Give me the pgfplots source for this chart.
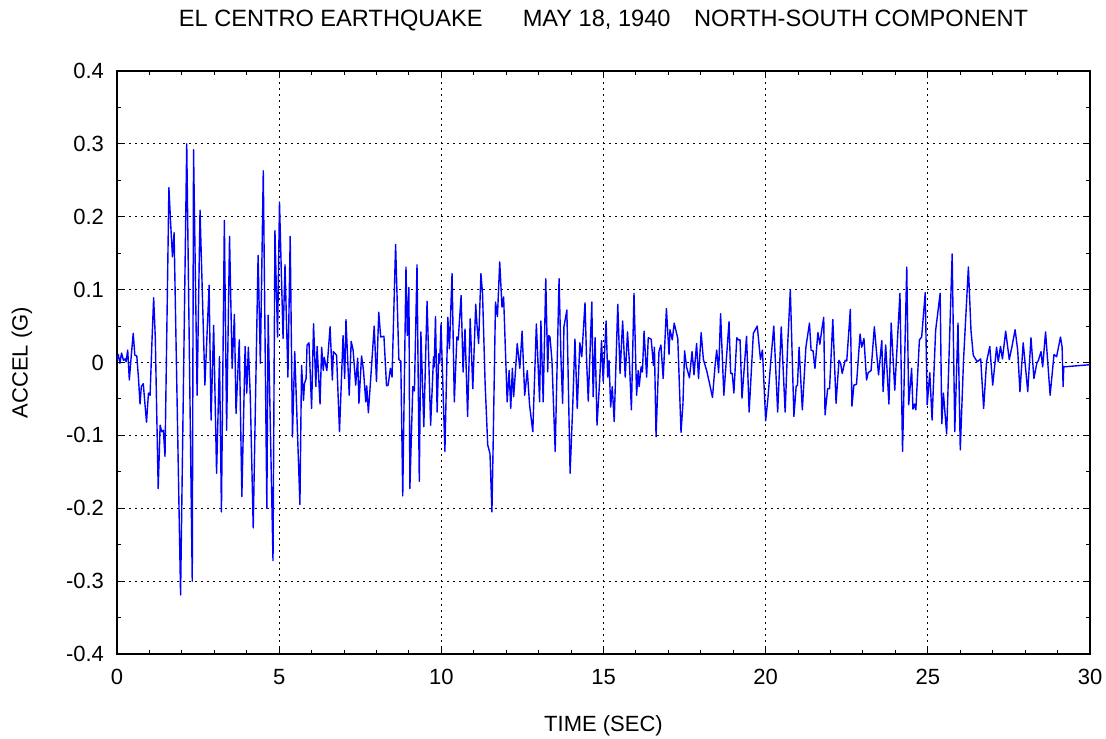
\documentclass[border=0pt]{standalone}
\usepackage{pgfplots}
\pgfplotsset{compat=1.18}
\usepackage{fontspec}
\setmainfont{Liberation Sans}
\pgfplotstableread{
t a
0.00 0.003
0.04 0.011
0.09 -0.001
0.14 0.013
0.20 0.003
0.25 0.005
0.28 0.001
0.33 0.017
0.38 -0.024
0.43 0.004
0.50 0.040
0.55 0.010
0.61 0.009
0.66 -0.020
0.71 -0.057
0.75 -0.033
0.81 -0.029
0.86 -0.056
0.91 -0.082
0.97 -0.042
1.02 -0.045
1.08 0.031
1.13 0.089
1.18 0.035
1.27 -0.173
1.33 -0.086
1.38 -0.095
1.43 -0.093
1.48 -0.129
1.60 0.240
1.66 0.186
1.71 0.145
1.76 0.178
1.96 -0.319
2.15 0.300
2.32 -0.300
2.36 0.292
2.47 -0.045
2.56 0.209
2.71 -0.031
2.84 0.106
2.90 -0.079
2.98 0.051
3.07 -0.152
3.16 0.008
3.22 -0.205
3.31 0.195
3.38 -0.093
3.47 0.173
3.55 -0.008
3.62 0.066
3.67 -0.070
3.77 0.031
3.85 -0.184
3.95 0.022
4.00 -0.042
4.05 0.021
4.11 -0.047
4.20 -0.227
4.35 0.147
4.42 -0.001
4.51 0.263
4.62 -0.200
4.66 0.065
4.81 -0.272
4.87 0.181
4.95 0.035
5.01 0.220
5.12 0.033
5.18 0.134
5.27 -0.020
5.34 0.173
5.41 -0.102
5.48 0.015
5.64 -0.195
5.69 -0.004
5.75 -0.052
5.78 -0.029
5.83 -0.022
5.86 0.024
5.92 0.027
6.00 -0.063
6.06 0.053
6.13 -0.033
6.17 0.022
6.26 -0.057
6.31 0.021
6.36 -0.011
6.39 0.007
6.47 -0.011
6.57 0.049
6.64 -0.024
6.67 0.015
6.77 0.010
6.86 -0.095
6.97 0.037
7.02 -0.022
7.06 0.059
7.16 -0.045
7.22 0.029
7.28 0.017
7.36 -0.031
7.42 0.006
7.46 -0.056
7.54 0.009
7.60 -0.011
7.67 -0.054
7.70 -0.032
7.75 -0.069
7.83 -0.017
7.93 0.050
8.00 -0.026
8.07 0.069
8.13 0.035
8.23 0.036
8.31 -0.032
8.36 -0.031
8.43 -0.008
8.48 -0.020
8.59 0.162
8.69 0.004
8.75 0.002
8.81 -0.183
8.91 0.131
8.95 0.037
9.00 0.103
9.03 -0.173
9.12 -0.033
9.17 -0.039
9.25 0.134
9.32 -0.163
9.37 0.042
9.46 -0.088
9.56 0.084
9.67 -0.086
9.76 0.008
9.78 -0.006
9.82 0.063
9.87 -0.068
9.92 0.012
9.95 -0.001
9.99 0.053
10.11 -0.122
10.20 0.062
10.25 0.019
10.33 0.122
10.40 -0.054
10.48 0.035
10.52 0.031
10.61 0.092
10.67 -0.013
10.73 0.046
10.81 -0.074
10.89 0.060
10.97 -0.036
11.06 0.080
11.10 0.051
11.15 0.026
11.22 0.122
11.27 0.095
11.35 -0.029
11.43 -0.113
11.50 -0.125
11.56 -0.205
11.60 -0.106
11.67 0.083
11.73 0.063
11.80 0.138
11.87 0.076
11.92 0.090
12.03 -0.054
12.09 -0.011
12.14 -0.063
12.19 -0.008
12.23 -0.047
12.27 -0.022
12.34 0.026
12.42 -0.008
12.49 0.043
12.57 -0.045
12.65 -0.011
12.72 -0.058
12.82 -0.095
12.93 0.053
13.03 -0.054
13.07 0.057
13.14 -0.054
13.22 0.115
13.28 -0.013
13.31 0.037
13.35 0.035
13.41 0.003
13.51 -0.122
13.63 0.115
13.69 0.003
13.74 -0.056
13.78 0.049
13.87 0.072
13.97 -0.152
14.05 -0.061
14.12 0.032
14.19 -0.063
14.27 0.027
14.33 0.008
14.43 0.082
14.48 0.001
14.53 -0.053
14.64 0.083
14.68 -0.047
14.74 0.034
14.80 -0.086
14.88 -0.026
14.94 0.030
14.99 -0.026
15.08 0.057
15.13 -0.020
15.17 0.003
15.22 -0.061
15.27 -0.033
15.33 -0.081
15.44 0.080
15.51 -0.015
15.59 0.057
15.67 -0.020
15.74 0.042
15.80 -0.001
15.86 -0.065
15.94 0.095
16.02 -0.045
16.07 -0.011
16.10 -0.033
16.16 -0.006
16.20 -0.013
16.25 0.043
16.33 -0.020
16.38 0.034
16.47 0.032
16.54 -0.004
16.57 0.021
16.62 -0.102
16.71 0.015
16.77 0.024
16.84 -0.022
16.94 0.074
17.02 0.011
17.05 0.045
17.12 0.031
17.18 0.054
17.29 0.033
17.39 -0.096
17.45 -0.056
17.50 0.016
17.56 -0.006
17.65 -0.021
17.73 0.015
17.79 -0.017
17.87 0.026
17.93 -0.022
18.01 0.041
18.08 0.004
18.18 -0.011
18.28 -0.031
18.36 -0.048
18.44 -0.004
18.49 0.017
18.55 -0.014
18.61 0.067
18.71 -0.045
18.87 0.056
18.92 -0.015
18.97 -0.015
19.02 -0.042
19.11 0.034
19.16 0.031
19.21 0.031
19.27 -0.049
19.41 0.036
19.49 -0.068
19.62 0.040
19.74 0.050
19.84 0.004
19.90 0.017
20.00 -0.080
20.07 -0.049
20.16 0.003
20.25 0.050
20.37 -0.068
20.48 0.049
20.60 -0.068
20.68 0.026
20.76 0.100
20.87 -0.074
20.94 -0.033
20.98 -0.031
21.03 0.021
21.13 -0.065
21.24 0.021
21.35 0.054
21.40 0.017
21.46 0.016
21.52 -0.008
21.61 0.041
21.67 0.025
21.73 0.045
21.79 0.062
21.83 -0.072
21.91 -0.036
21.97 -0.036
22.07 0.059
22.17 -0.056
22.26 0.003
22.31 -0.001
22.36 -0.015
22.45 0.003
22.50 0.002
22.61 0.073
22.66 -0.060
22.72 -0.031
22.80 -0.030
22.91 0.039
22.96 0.021
23.03 0.033
23.11 -0.024
23.16 -0.014
23.25 -0.011
23.35 0.049
23.48 -0.017
23.58 0.030
23.62 -0.040
23.70 0.024
23.80 -0.057
23.87 0.054
23.98 -0.038
24.14 0.095
24.22 -0.122
24.35 0.131
24.41 -0.058
24.50 -0.008
24.54 -0.064
24.58 -0.057
24.63 -0.065
24.74 0.031
24.81 0.035
24.92 0.096
24.98 -0.058
25.06 -0.014
25.13 -0.079
25.24 0.044
25.38 0.095
25.43 -0.084
25.48 -0.042
25.58 -0.098
25.75 0.149
25.83 -0.095
25.93 0.054
26.00 -0.120
26.10 0.003
26.25 0.131
26.33 0.044
26.40 0.010
26.52 0.001
26.63 0.005
26.72 -0.063
26.81 0.001
26.91 0.022
27.00 -0.031
27.12 0.021
27.17 0.001
27.24 0.022
27.30 0.005
27.40 0.043
27.51 0.004
27.59 0.021
27.69 0.045
27.77 0.017
27.84 -0.040
27.94 0.027
28.02 -0.011
28.08 -0.040
28.18 0.034
28.27 -0.022
28.36 -0.001
28.41 0.003
28.49 0.015
28.54 -0.006
28.63 0.042
28.77 -0.045
28.89 0.011
28.97 0.008
29.09 0.035
29.14 0.021
29.17 -0.033
29.19 -0.006
30.00 -0.003
}\elcentro
\begin{document}
\begin{tikzpicture}
\useasboundingbox (0,0) rectangle (553pt,369pt);
\begin{axis}[
  at={(58.5pt,42pt)}, anchor=south west,
  width=486.5pt, height=291.5pt, scale only axis,
  xmin=0, xmax=30, ymin=-0.4, ymax=0.4,
  xtick={0,5,...,30},
  xticklabels={0,5,10,15,20,25,30},
  ytick={-0.4,-0.3,-0.2,-0.1,0,0.1,0.2,0.3,0.4},
  yticklabels={-0.4,-0.3,-0.2,-0.1,0,0.1,0.2,0.3,0.4},
  minor x tick num=4, minor y tick num=1,
  tick align=inside, tick pos=both,
  major tick length=3pt, minor tick length=2pt,
  tick style={black, line width=0.5pt},
  axis line style={line width=1pt},
  grid=major,
  major grid style={black, line width=0.5pt, dash pattern=on 1pt off 2pt},
  ticklabel style={font=\fontsize{11}{13}\selectfont},
  xticklabel style={yshift=-4pt},
  yticklabel style={xshift=-3pt},
  xlabel={TIME (SEC)},
  ylabel={ACCEL (G)},
  label style={font=\fontsize{11}{13}\selectfont},
  xlabel style={at={(axis description cs:0.5,-0.1235)}, anchor=center},
  ylabel style={at={(axis description cs:-0.0976,0.5)}, anchor=center},
  every axis title shift=0pt,
  title={EL CENTRO EARTHQUAKE\hspace{1.7em}MAY 18, 1940\hspace{1em}NORTH-SOUTH COMPONENT},
  title style={at={(axis description cs:0.5,1.0875)}, anchor=center, font=\fontsize{11.8}{14}\selectfont},
]
\addplot[color={rgb,255:red,0;green,0;blue,255}, line width=0.7pt, line join=round] table[x=t,y=a] {\elcentro};
\end{axis}
\end{tikzpicture}
\end{document}
